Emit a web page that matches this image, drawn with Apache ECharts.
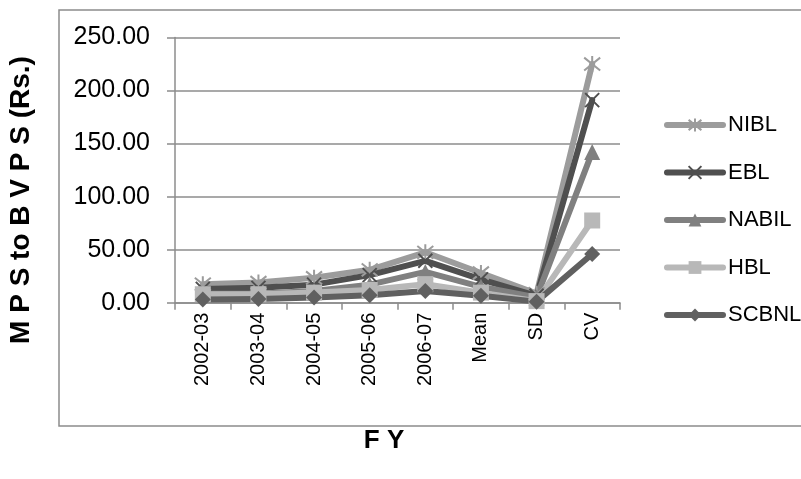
<!DOCTYPE html>
<html>
<head>
<meta charset="utf-8">
<script src="https://cdn.jsdelivr.net/npm/echarts@6/dist/echarts.min.js"></script>
<style>
  html, body { margin: 0; padding: 0; background: #fff; }
  #chart { width: 801px; height: 479px; }
</style>
</head>
<body>
<div id="chart"></div>
<script>
// Fiscal years plus summary statistics
const categories = ['2002-03', '2003-04', '2004-05', '2005-06', '2006-07', 'Mean', 'SD', 'CV'];

// Market price per share to book value per share, by bank
const nibl  = [17.5, 19.0, 23.5, 31.0, 47.5, 28.0, 8.5, 225.0];
const ebl   = [13.0, 14.0, 17.0, 26.0, 39.5, 22.0, 6.5, 191.0];
const nabil = [8.5, 8.5, 11.0, 17.0, 29.0, 15.0, 5.0, 142.0];
const hbl   = [8.0, 8.0, 9.5, 12.0, 17.5, 9.5, 1.5, 77.5];
const scbnl = [3.0, 3.5, 5.0, 7.0, 11.0, 6.5, 1.0, 46.0];

const yTicks = [0, 50, 100, 150, 200, 250];

const FONT = "'Liberation Sans', Arial, sans-serif";

const seriesDefs = [
  { name: 'NIBL',  data: nibl,  color: '#9c9c9c', symbol: 'path://M10,0L10,20M2,2L18,18M18,2L2,18', size: 16, stroke: true },
  { name: 'EBL',   data: ebl,   color: '#4f4f4f', symbol: 'path://M0,0L20,20M20,0L0,20', size: 14, stroke: true },
  { name: 'NABIL', data: nabil, color: '#808080', symbol: 'triangle', size: 16, stroke: false },
  { name: 'HBL',   data: hbl,   color: '#b8b8b8', symbol: 'rect', size: 16, stroke: false },
  { name: 'SCBNL', data: scbnl, color: '#606060', symbol: 'diamond', size: 16, stroke: false }
];

const chart = echarts.init(document.getElementById('chart'), null, { renderer: 'canvas' });

chart.setOption({
  animation: false,
  backgroundColor: '#ffffff',
  textStyle: { fontFamily: FONT },
  grid: { left: 175, right: 181, top: 37.5, bottom: 176.3, containLabel: false },
  graphic: [
    {
      type: 'rect',
      shape: { x: 59, y: 10, width: 800, height: 416 },
      style: { fill: 'none', stroke: '#8c8c8c', lineWidth: 1.5 },
      z: 0
    },
    {
      type: 'text',
      x: 21, y: 200, rotation: Math.PI / 2,
      style: {
        text: 'M P S to B V P S (Rs.)',
        font: "bold 28px 'Liberation Sans', Arial, sans-serif",
        fill: '#000', align: 'center', verticalAlign: 'middle'
      }
    },
    {
      type: 'text',
      x: 384, y: 441,
      style: {
        text: 'F Y',
        font: "bold 26px 'Liberation Sans', Arial, sans-serif",
        fill: '#000', align: 'center', verticalAlign: 'middle'
      }
    }
  ],
  legend: {
    orient: 'vertical',
    left: 659,
    top: 109,
    itemWidth: 56,
    itemHeight: 16,
    itemGap: 25.5,
    lineStyle: { width: 6 },
    textStyle: { fontSize: 22, color: '#000', fontFamily: FONT },
    data: seriesDefs.map(s => s.name)
  },
  xAxis: {
    type: 'category',
    data: categories,
    boundaryGap: true,
    axisLine: { lineStyle: { color: '#8c8c8c', width: 1.5 } },
    axisTick: { show: true, length: 7, lineStyle: { color: '#8c8c8c', width: 1.5 } },
    axisLabel: { rotate: 90, fontSize: 20, color: '#000', margin: 10, fontFamily: FONT, interval: 0 },
    splitLine: { show: false }
  },
  yAxis: {
    type: 'value',
    min: yTicks[0],
    max: yTicks[yTicks.length - 1],
    interval: 50,
    axisLine: { show: true, lineStyle: { color: '#8c8c8c', width: 1.5 } },
    axisTick: { show: true, length: 8, lineStyle: { color: '#8c8c8c', width: 1.5 } },
    axisLabel: {
      fontSize: 25, color: '#000', margin: 25, fontFamily: FONT,
      formatter: v => v.toFixed(2)
    },
    splitLine: { show: true, lineStyle: { color: '#8c8c8c', width: 1.5 } }
  },
  series: seriesDefs.map(s => ({
    name: s.name,
    type: 'line',
    data: s.data,
    symbol: s.symbol,
    symbolSize: s.size,
    showAllSymbol: true,
    lineStyle: { color: s.color, width: 6, cap: 'round', join: 'round' },
    itemStyle: s.stroke
      ? { color: s.color, borderColor: s.color, borderWidth: 2 }
      : { color: s.color, borderWidth: 0 },
    emphasis: { disabled: true }
  }))
});
</script>
</body>
</html>
